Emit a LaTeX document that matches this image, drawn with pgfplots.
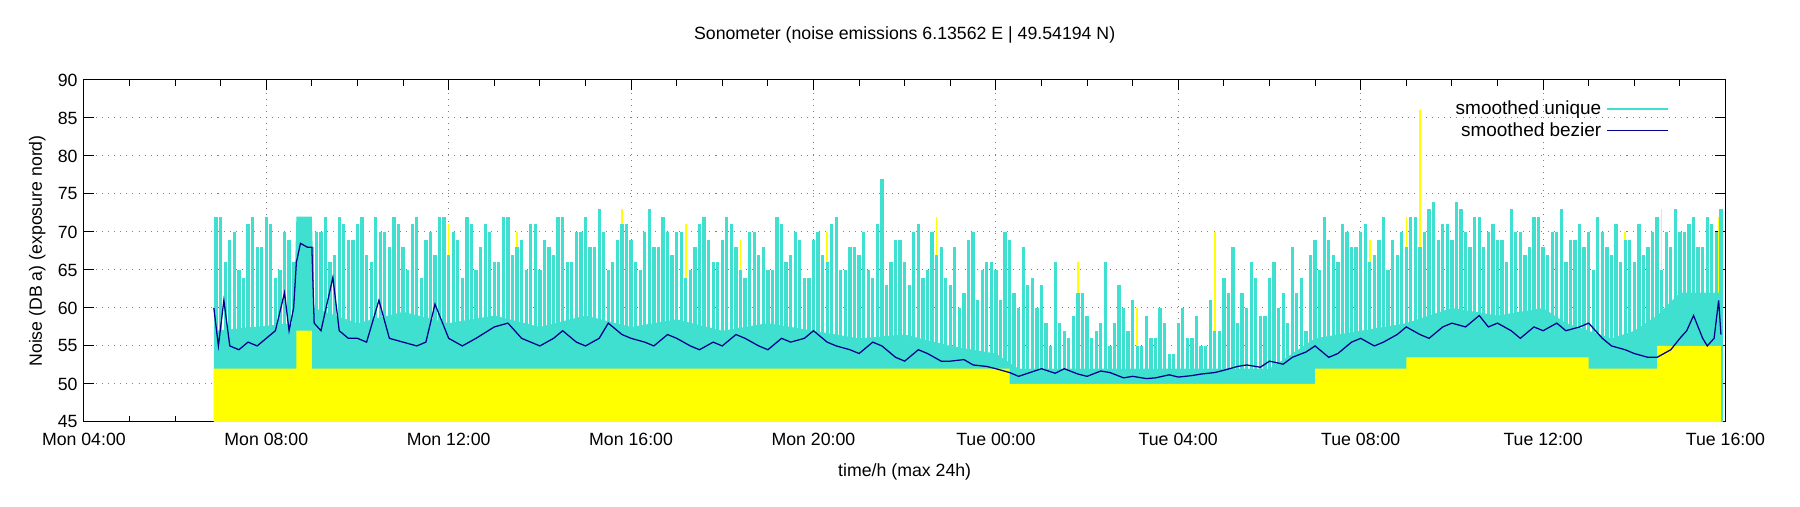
\documentclass[border=0pt]{standalone}
\usepackage{pgfplots}
\usepackage{pgfplotstable}
\pgfplotsset{compat=1.18}
\usepackage{fontspec}
\setmainfont{Liberation Sans}
\definecolor{turq}{RGB}{64,224,208}
\definecolor{nav}{RGB}{0,0,139}
\definecolor{yel}{RGB}{255,255,0}
\pgfplotstableread{
x v w
6.9 72 72
7.1 66 69
7.3 70 65
7.5 64 71
7.7 72 68
7.9 68 72
8.1 71 64
8.3 65 70
8.5 69 66
8.7 72 72
8.9 72 68
9.1 70 70
9.3 72 66
9.5 67 72
9.7 71 69
9.9 69 71
10.1 72 67
10.3 66 72
10.5 70 70
10.7 68 72
10.9 71 68
11.1 65 71
11.3 72 64
11.5 69 70
11.7 67 72
11.9 72 67
12.1 70 69
12.3 64 72
12.5 71 65
12.7 68 71
12.9 70 66
13.1 66 72
13.3 72 67
13.5 68 69
13.7 65 71
13.9 71 65
14.1 69 68
14.3 67 72
14.5 72 66
14.7 66 70
14.9 70 72
15.1 68 68
15.3 73 70
15.5 65 66
15.7 69 71
15.9 71 69
16.1 66 65
16.3 70 73
16.5 68 68
16.7 72 70
16.9 67 70
17.1 70 64
17.3 65 68
17.5 71 72
17.7 69 66
17.9 66 69
18.1 72 71
18.3 68 65
18.5 64 70
18.7 70 67
18.9 68 65
19.1 65 72
19.3 71 66
19.5 67 70
19.7 69 64
19.9 64 69
20.1 70 67
20.3 66 71
20.5 72 65
20.7 65 68
20.9 68 67
21.1 70 65
21.3 64 71
21.5 77 63
21.7 66 69
21.9 69 66
22.1 63 70
22.3 71 64
22.5 65 70
22.7 67 68
22.9 64 63
23.1 68 60
23.3 62 69
23.5 70 61
23.7 65 66
23.9 66 65
24.1 61 70
24.3 69 62
24.5 60 68
24.7 63 64
24.9 60 63
25.1 58 55
25.3 66 58
25.5 57 56
25.7 59 62
25.9 62 59
26.1 56 57
26.3 58 66
26.5 55 58
26.7 63 60
26.9 57 61
27.1 55 55
27.3 59 56
27.5 56 60
27.7 58 54
27.9 54 58
28.1 60 56
28.3 56 59
28.5 55 55
28.7 61 57
28.9 57 64
29.1 62 68
29.3 58 62
29.5 60 66
29.7 64 59
29.9 59 64
30.1 66 60
30.3 62 58
30.5 68 62
30.7 64 57
30.9 67 69
31.1 65 72
31.3 69 67
31.5 66 71
31.7 70 68
31.9 68 70
32.1 71 66
32.3 67 69
32.5 72 65
32.7 69 67
32.9 70 68
33.1 72 72
33.3 68 70
33.5 73 74
33.7 69 71
33.9 71 69
34.1 74 73
34.3 70 68
34.5 72 72
34.7 68 70
34.9 71 69
35.1 69 66
35.3 73 70
35.5 70 67
35.7 68 72
35.9 72 68
36.1 67 70
36.3 70 73
36.5 66 69
36.7 69 71
36.9 68 70
37.1 65 72
37.3 70 68
37.5 67 71
37.7 66 69
37.9 69 66
38.1 71 67
38.3 68 70
38.5 72 65
38.7 70 68
38.9 73 70
39.1 70 71
39.3 72 68
39.5 68 72
39.7 71 70
39.8 70 73
}\spikes
\begin{document}
\fontsize{7pt}{8.5pt}\selectfont
\begin{tikzpicture}
\useasboundingbox (-1.165cm,-1.17cm) rectangle (23.835cm,5.86cm);
\begin{axis}[
  scale only axis, width=22.8cm, height=4.75cm,
  xmin=4, xmax=40, ymin=45, ymax=90,
  xtick={4,8,...,40},
  xticklabels={Mon 04:00,Mon 08:00,Mon 12:00,Mon 16:00,Mon 20:00,Tue 00:00,Tue 04:00,Tue 08:00,Tue 12:00,Tue 16:00},
  minor xtick={5,6,7,9,10,11,13,14,15,17,18,19,21,22,23,25,26,27,29,30,31,33,34,35,37,38,39},
  ytick={45,50,...,90},
  tick align=inside, tick style={black, thin},
  major tick length=4pt, minor tick length=2.5pt,
  grid=major, major grid style={gray, dotted, thin},
  axis line style={black, thin},
  /pgf/number format/assume math mode=true,
  tick label style={font=\fontsize{7pt}{8pt}\selectfont},
  xticklabel style={yshift=-2pt},
  label style={font=\fontsize{7pt}{8pt}\selectfont},
  title={Sonometer (noise emissions 6.13562 E | 49.54194 N)},
  title style={font=\fontsize{7pt}{8pt}\selectfont, yshift=6pt},
  xlabel={time/h (max 24h)}, ylabel={Noise (DB a) (exposure nord)},
  xlabel style={yshift=-2pt},
  legend pos=north east,
  legend style={draw=none, fill=none, font=\fontsize{7.5pt}{8pt}\selectfont, row sep=-2pt},
  legend cell align=right, legend plot pos=right,
  legend image post style={xscale=1.4},
]
% yellow spikes
\addplot[ycomb, yel, line width=0.6pt, forget plot] coordinates {
(7.0,69)(7.6,70)(8.0,70)(12.0,71)(13.5,70)(15.8,73)(17.2,71)(18.4,69)(20.3,70)(21.4,68)(22.7,72)
(25.8,66)(27.1,60)(28.8,70)(31.3,67)(32.2,69)(33.0,72)(33.3,86)(34.2,71)(36.4,69)(37.8,70)(38.6,73)(39.3,70)(39.85,72)};
% cyan solid area
\addplot[fill=turq, draw=none, forget plot] coordinates {
(6.85,57)(8.6,58)(8.66,72)(9.0,72)(9.05,60)(10,58)(11,59.5)(12,58)(13,59)(14,57.5)(15,59)(16,57.5)(17,58.5)(18,57)(19,58)(20,57)(21,56)(22,56.5)(23,55)(24,54)(24.5,52)(30,52)(30.5,54)(31,56)(32,57)(33,58)(34,60)(35,59)(36,60)(36.5,58)(37.5,56)(38,57)(38.5,59)(39,62)(39.9,62)(39.9,45)(6.85,45)} --cycle;
% cyan spikes
\addplot[ycomb, turq, line width=1.3pt, forget plot] table[y=v] {\spikes};
\addplot[ycomb, turq, line width=1.3pt, forget plot] table[x expr=\thisrow{x}+0.1, y=w] {\spikes};
% yellow base
\addplot[fill=yel, draw=none, forget plot] coordinates {
(6.85,52)(8.66,52)(8.66,57)(9.0,57)(9.0,52)(24.3,52)(24.3,50)(31,50)(31,52)(33,52)(33,53.5)(37,53.5)(37,52)(38.5,52)(38.5,55)(39.9,55)(39.9,45)(6.85,45)} --cycle;
% bezier
\addplot[nav, line width=0.5pt, forget plot] coordinates {
(6.85,60)(6.95,55)(7.07,61)(7.2,55)(7.4,54.5)(7.6,55.5)(7.8,55)(8.0,56)(8.2,57)(8.4,62)(8.5,57)(8.6,60)(8.66,66)(8.75,68.5)(8.9,68)(9.0,68)(9.05,58)(9.2,57)(9.46,64)(9.6,57)(9.8,56)(10.0,56)(10.2,55.5)(10.47,61)(10.7,56)(11.0,55.5)(11.3,55)(11.5,55.5)(11.7,60.5)(12.0,56)(12.3,55)(12.6,56)(13.0,57.5)(13.3,58)(13.6,56)(14.0,55)(14.3,56)(14.5,57)(14.8,55.5)(15.0,55)(15.3,56)(15.5,58)(15.8,56.5)(16.0,56)(16.3,55.5)(16.5,55)(16.8,56.5)(17.0,56)(17.3,55)(17.5,54.5)(17.8,55.5)(18.0,55)(18.3,56.5)(18.5,56)(18.8,55)(19.0,54.5)(19.3,56)(19.5,55.5)(19.8,56)(20.0,57)(20.3,55.5)(20.5,55)(20.8,54.5)(21.0,54)(21.3,55.5)(21.5,55)(21.8,53.5)(22.0,53)(22.3,54.5)(22.5,54)(22.8,53)(23.0,53)(23.3,53.2)(23.5,52.5)(23.8,52.3)(24.0,52)(24.3,51.5)(24.5,51)(24.8,51.6)(25.0,52)(25.3,51.4)(25.5,52)(25.8,51.3)(26.0,51)(26.3,51.7)(26.5,51.5)(26.8,50.8)(27.0,51)(27.3,50.7)(27.5,50.8)(27.8,51.2)(28.0,50.9)(28.3,51.1)(28.5,51.3)(28.8,51.5)(29.0,51.8)(29.3,52.3)(29.5,52.5)(29.8,52.2)(30.0,53)(30.3,52.6)(30.5,53.5)(30.8,54.2)(31.0,55)(31.3,53.5)(31.5,54)(31.8,55.5)(32.0,56)(32.3,55)(32.5,55.5)(32.8,56.5)(33.0,57.5)(33.3,56.5)(33.5,56)(33.8,57.5)(34.0,58)(34.3,57.5)(34.6,59)(34.8,57.5)(35.0,58)(35.3,57)(35.5,56)(35.8,57.5)(36.0,57)(36.3,58)(36.5,57)(36.8,57.5)(37.0,58)(37.3,56)(37.5,55)(37.8,54.5)(38.0,54)(38.3,53.5)(38.5,53.5)(38.8,54.5)(39.0,56)(39.15,57)(39.3,59)(39.5,56)(39.6,55)(39.75,56)(39.85,61)(39.9,56.5)};
\addlegendimage{turq, line width=0.5pt}
\addlegendentry{smoothed unique}
\addlegendimage{nav, line width=0.5pt}
\addlegendentry{smoothed bezier}
\end{axis}
\end{tikzpicture}
\end{document}
